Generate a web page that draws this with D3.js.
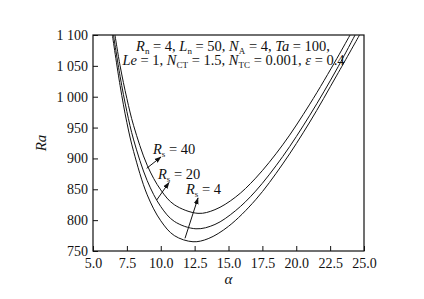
<!DOCTYPE html>
<html>
<head>
<meta charset="utf-8">
<style>
  body { margin: 0; background: #fff; }
  text { font-family: "Liberation Serif", "DejaVu Serif", serif; fill: #111; }
</style>
</head>
<body>
<div id="chart"></div>
<script src="https://cdn.jsdelivr.net/npm/d3@7"></script>
<script>
// values: alpha on x, Ra on y
const alphaRs4  = [6.43, 7.0, 7.5, 8.0, 9.0, 10.0, 11.0, 12.38, 13.5, 15.0, 17.0, 19.0, 21.0, 23.0, 24.67];
const raRs4     = [1100, 1018, 958, 911, 841, 799, 775, 765, 770, 790, 833, 891, 959, 1035, 1100];
const alphaRs20 = [6.51, 7.0, 7.5, 8.0, 9.0, 10.0, 11.0, 12.6, 14.0, 15.5, 17.0, 19.0, 21.0, 23.0, 24.34];
const raRs20    = [1100, 1033, 976, 930, 864, 822, 798, 786, 793, 815, 847, 903, 970, 1045, 1100];
const alphaRs40 = [6.62, 7.0, 7.5, 8.0, 9.0, 10.0, 11.0, 12.75, 14.0, 15.5, 17.0, 19.0, 21.0, 23.0, 23.97];
const raRs40    = [1100, 1050, 997, 953, 889, 849, 825, 811, 817, 837, 868, 922, 988, 1062, 1100];

const xTicks = [5, 7.5, 10, 12.5, 15, 17.5, 20, 22.5, 25];
const yTicks = [750, 800, 850, 900, 950, 1000, 1050, 1100];
const yTickLabels = ["750", "800", "850", "900", "950", "1 000", "1 050", "1 100"];

const series = [
  { name: "40", a: alphaRs40, r: raRs40 },
  { name: "20", a: alphaRs20, r: raRs20 },
  { name: "4",  a: alphaRs4,  r: raRs4 }
];

const W = 424, H = 299;
const m = { top: 35, left: 93, right: 60, bottom: 48 };
const w = W - m.left - m.right, h = H - m.top - m.bottom;

const svg = d3.select("#chart").append("svg")
  .attr("width", W).attr("height", H);

const g = svg.append("g").attr("transform", `translate(${m.left},${m.top})`);

const x = d3.scaleLinear().domain([5, 25]).range([0, w]);
const y = d3.scaleLinear().domain([750, 1100]).range([h, 0]);

// axes, ticks pointing inward
const xAxis = g.append("g").attr("transform", `translate(0,${h})`)
  .call(d3.axisBottom(x).tickValues(xTicks).tickSize(-5).tickSizeOuter(0)
    .tickPadding(7).tickFormat(d3.format(".1f")));
const yAxis = g.append("g")
  .call(d3.axisLeft(y).tickValues(yTicks).tickSize(-5).tickSizeOuter(0)
    .tickPadding(5).tickFormat((d, i) => yTickLabels[i]));

[xAxis, yAxis].forEach(a => {
  a.selectAll("text").style("font-size", "14px").attr("fill", "#111");
  a.selectAll("line").attr("stroke", "#111");
  a.select(".domain").remove();
});

g.append("rect").attr("width", w).attr("height", h)
  .attr("fill", "none").attr("stroke", "#111").attr("stroke-width", 1.2);

g.append("clipPath").attr("id", "clip")
  .append("rect").attr("width", w).attr("height", h);

const line = d3.line()
  .x(d => x(d[0])).y(d => y(d[1]))
  .curve(d3.curveCatmullRom.alpha(0.5));

g.append("g").attr("clip-path", "url(#clip)")
  .selectAll("path").data(series).join("path")
  .attr("d", s => line(s.a.map((v, i) => [v, s.r[i]])))
  .attr("fill", "none").attr("stroke", "#111").attr("stroke-width", 1);

// axis titles
svg.append("text").attr("x", m.left + w / 2).attr("y", 284)
  .attr("text-anchor", "middle").style("font-size", "15px").style("font-style", "italic").text("α");
svg.append("text").attr("transform", `translate(46,${m.top + h / 2}) rotate(-90)`)
  .attr("text-anchor", "middle").style("font-size", "15px").style("font-style", "italic").text("Ra");

// parameter text
function rich(t, parts) {
  parts.forEach(p => {
    const s = t.append("tspan").text(p[0]);
    if (p[1] === "i") s.style("font-style", "italic");
    if (p[1] === "sub") s.attr("dy", 2.5).style("font-size", "9px");
    if (p[1] === "up") s.attr("dy", -2.5);
  });
}
const t1 = svg.append("text").attr("x", 233).attr("y", 51).attr("text-anchor", "middle").style("font-size", "14.5px");
rich(t1, [["R", "i"], ["n", "sub"], [" = 4, ", "up"], ["L", "i"], ["n", "sub"], [" = 50, ", "up"],
  ["N", "i"], ["A", "sub"], [" = 4, ", "up"], ["Ta", "i"], [" = 100,"]]);
const t2 = svg.append("text").attr("x", 233.5).attr("y", 65).attr("text-anchor", "middle").style("font-size", "14.5px");
rich(t2, [["Le", "i"], [" = 1, "], ["N", "i"], ["CT", "sub"], [" = 1.5, ", "up"], ["N", "i"], ["TC", "sub"],
  [" = 0.001, ", "up"], ["ε", "i"], [" = 0.4"]]);

// Rs labels with arrows
const labels = [
  { s: "40", tx: 153, ty: 154, a: [[146.7, 168.3], [161, 157]] },
  { s: "20", tx: 158, ty: 179, a: [[156.7, 200], [169, 182.5]] },
  { s: "4",  tx: 186, ty: 194, a: [[185, 238.3], [198, 198]] }
];
svg.append("defs").append("marker").attr("id", "ah")
  .attr("viewBox", "0 0 10 10").attr("refX", 9).attr("refY", 5)
  .attr("markerWidth", 7).attr("markerHeight", 7).attr("orient", "auto")
  .append("path").attr("d", "M0,1.5L10,5L0,8.5z").attr("fill", "#111");
labels.forEach(l => {
  const t = svg.append("text").attr("x", l.tx).attr("y", l.ty).style("font-size", "14.5px");
  rich(t, [["R", "i"], ["s", "sub"], [" = " + l.s, "up"]]);
  svg.append("line").attr("x1", l.a[0][0]).attr("y1", l.a[0][1]).attr("x2", l.a[1][0]).attr("y2", l.a[1][1])
    .attr("stroke", "#111").attr("stroke-width", 1).attr("marker-end", "url(#ah)");
});
</script>
</body>
</html>
